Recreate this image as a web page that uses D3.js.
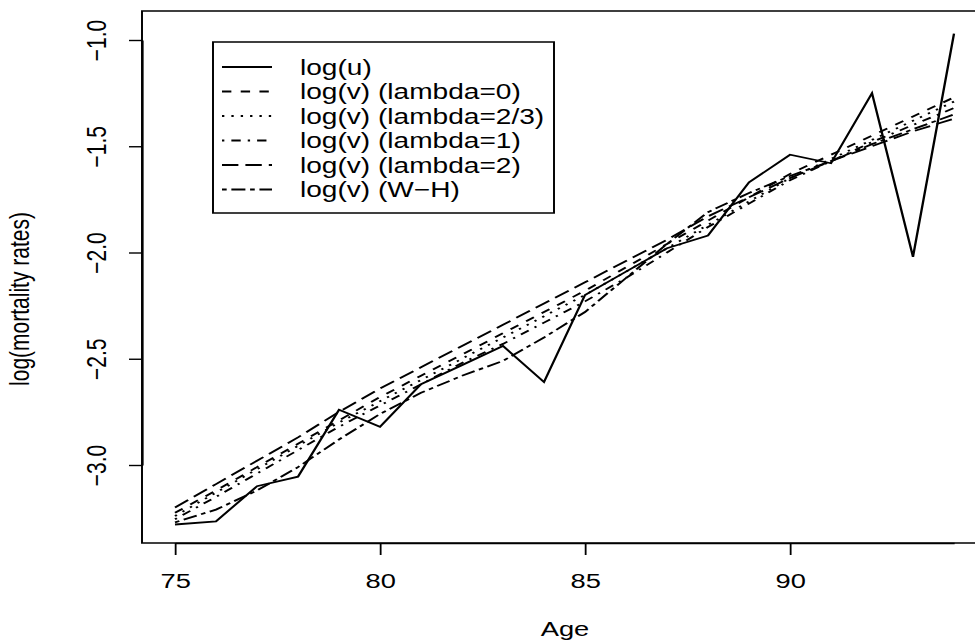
<!DOCTYPE html>
<html>
<head>
<meta charset="utf-8">
<script src="https://cdn.jsdelivr.net/npm/d3@7"></script>
<style>
body{margin:0;background:#fff;}
svg{display:block;}
text{font-family:"Liberation Sans",Arial,Helvetica,sans-serif;fill:#000;}
</style>
</head>
<body>
<svg id="chart"></svg>
<script>
// data
const ages = [75,76,77,78,79,80,81,82,83,84,85,86,87,88,89,90,91,92,93,94];
const logU   = [-3.28,-3.265,-3.10,-3.055,-2.74,-2.82,-2.62,-2.53,-2.44,-2.61,-2.20,-2.09,-1.98,-1.92,-1.67,-1.54,-1.58,-1.25,-2.02,-0.97];
const lam0   = [-3.225,-3.12,-3.01,-2.90,-2.79,-2.68,-2.58,-2.48,-2.38,-2.28,-2.18,-2.07,-1.96,-1.85,-1.74,-1.63,-1.54,-1.45,-1.36,-1.27];
const lam23  = [-3.24,-3.13,-3.02,-2.91,-2.80,-2.70,-2.60,-2.50,-2.40,-2.30,-2.20,-2.09,-1.98,-1.87,-1.76,-1.65,-1.56,-1.47,-1.38,-1.29];
const lam1   = [-3.255,-3.15,-3.04,-2.93,-2.82,-2.72,-2.62,-2.52,-2.43,-2.33,-2.23,-2.12,-2.00,-1.88,-1.77,-1.66,-1.57,-1.48,-1.40,-1.32];
const lam2   = [-3.20,-3.09,-2.98,-2.87,-2.75,-2.64,-2.54,-2.44,-2.34,-2.24,-2.14,-2.04,-1.94,-1.83,-1.74,-1.65,-1.57,-1.50,-1.43,-1.37];
const wh     = [-3.27,-3.21,-3.12,-3.01,-2.88,-2.76,-2.66,-2.58,-2.51,-2.40,-2.28,-2.12,-1.96,-1.81,-1.72,-1.64,-1.57,-1.49,-1.42,-1.35];
const seriesNames = ["log(u)","log(v) (lambda=0)","log(v) (lambda=2/3)","log(v) (lambda=1)","log(v) (lambda=2)","log(v) (W\u2212H)"];
const xTicks = [75,80,85,90];
const yTicks = [-3.0,-2.5,-2.0,-1.5,-1.0];

const series = [logU, lam0, lam23, lam1, lam2, wh];

// the picture is stretched sideways, so draw in a narrower box and stretch it
const SX = 1.3;
const W = 975, H = 641;
const LW = W / SX;
const u = 1.8; // dash unit
const dashes = [null, [4*u,4*u], [1*u,3*u], [1*u,3*u,4*u,3*u], [7*u,3*u], [2*u,2*u,6*u,2*u]];

const svg = d3.select("#chart")
    .attr("width", W)
    .attr("height", H)
    .attr("viewBox", `0 0 ${LW} ${H}`)
    .attr("preserveAspectRatio", "none");

const box = {left: 142/SX, right: 988/SX, top: 11, bottom: 543};

const x = d3.scaleLinear().domain([75,94]).range([175/SX, 954/SX]);
const y = d3.scaleLinear().domain([-3,-1]).range([465,40]);

const fontSize = 21;

// plot frame
svg.append("rect")
    .attr("x", box.left).attr("y", box.top)
    .attr("width", box.right-box.left).attr("height", box.bottom-box.top)
    .attr("fill","none").attr("stroke","#000").attr("stroke-width",1.5);

// x axis
let xAxis = svg.append("g")
    .attr("transform", `translate(0,${box.bottom})`)
    .call(d3.axisBottom(x).tickValues(xTicks).tickSize(12).tickSizeOuter(0).tickPadding(18).tickFormat(d3.format("d")));
xAxis.select(".domain").attr("stroke-width",1.5);
xAxis.selectAll(".tick line").attr("stroke-width",1.4);
xAxis.selectAll("text").attr("font-size", fontSize).style("font-family",'"Liberation Sans",Arial,sans-serif');

// y axis, labels turned sideways like R does
let yAxis = svg.append("g")
    .attr("transform", `translate(${box.left},0)`)
    .call(d3.axisLeft(y).tickValues(yTicks).tickSize(10).tickSizeOuter(0).tickFormat(d3.format(".1f")));
yAxis.select(".domain").attr("stroke-width",1.5);
yAxis.selectAll(".tick line").attr("stroke-width",1.4);
yAxis.selectAll("text")
    .attr("x", null).attr("dy", null)
    .attr("transform", `translate(${(96-142)/SX},0) rotate(-90)`)
    .attr("text-anchor","middle")
    .attr("dominant-baseline","central")
    .attr("font-size", fontSize)
    .style("font-family",'"Liberation Sans",Arial,sans-serif');

// axis titles
svg.append("text")
    .attr("x", 565/SX).attr("y", 629)
    .attr("text-anchor","middle").attr("dominant-baseline","central")
    .attr("font-size", fontSize)
    .text("Age");

svg.append("text")
    .attr("transform", `translate(${19/SX},299) rotate(-90)`)
    .attr("text-anchor","middle").attr("dominant-baseline","central")
    .attr("font-size", fontSize)
    .text("log(mortality rates)");

// lines
const line = d3.line()
    .x((d,i) => x(ages[i]))
    .y(d => y(d));

svg.selectAll("path.series")
    .data(series)
    .join("path")
    .attr("class","series")
    .attr("d", d => line(d))
    .attr("fill","none")
    .attr("stroke","#000")
    .attr("stroke-width",1.8)
    .attr("stroke-dasharray", (d,i) => dashes[i] ? dashes[i].join(",") : null);

// legend
const lg = svg.append("g");
lg.append("rect")
    .attr("x", 213/SX).attr("y", 42)
    .attr("width", (554-213)/SX).attr("height", 213-42)
    .attr("fill","#fff").attr("stroke","#000").attr("stroke-width",1.5);

let rows = lg.selectAll("g.row")
    .data(seriesNames)
    .join("g")
    .attr("class","row")
    .attr("transform", (d,i) => `translate(0,${67 + i*24.5})`);

rows.append("line")
    .attr("x1", 222/SX).attr("x2", 272/SX)
    .attr("y1", 0).attr("y2", 0)
    .attr("stroke","#000").attr("stroke-width",1.8)
    .attr("stroke-dasharray", (d,i) => dashes[i] ? dashes[i].join(",") : null);

rows.append("text")
    .attr("x", 300/SX).attr("y", 0)
    .attr("dominant-baseline","central")
    .attr("font-size", 21.6)
    .text(d => d);
</script>
</body>
</html>
